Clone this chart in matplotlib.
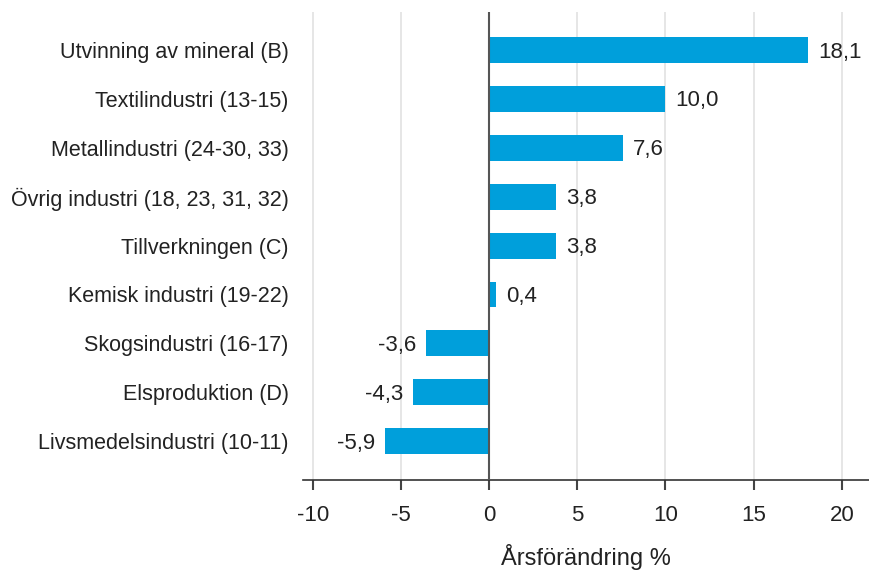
import matplotlib
matplotlib.use("Agg")
import matplotlib.pyplot as plt

plt.rcParams['font.family'] = ['Liberation Sans', 'DejaVu Sans']

categories = [
    "Utvinning av mineral (B)",
    "Textilindustri (13-15)",
    "Metallindustri (24-30, 33)",
    "Övrig industri (18, 23, 31, 32)",
    "Tillverkningen (C)",
    "Kemisk industri (19-22)",
    "Skogsindustri (16-17)",
    "Elsproduktion (D)",
    "Livsmedelsindustri (10-11)",
]
values = [18.1, 10.0, 7.6, 3.8, 3.8, 0.4, -3.6, -4.3, -5.9]
xticks = [-10, -5, 0, 5, 10, 15, 20]

bar_color = "#009fdb"

fig = plt.figure(figsize=(8.7, 5.71), dpi=100)
ax = fig.add_axes([0.348, 0.159, 0.652, 0.82])

pos = list(range(len(categories)))
ax.barh(pos, values, height=0.53, color=bar_color, zorder=3)

# value labels next to each bar, decimal comma
for y, v in zip(pos, values):
    txt = f"{v:.1f}".replace(".", ",")
    if v >= 0:
        ax.text(v + 0.55, y + 0.04, txt, va="center", ha="left", fontsize=16, color="#222222")
    else:
        ax.text(v - 0.55, y + 0.04, txt, va="center", ha="right", fontsize=16, color="#222222")

ax.axvline(0, color="#555555", linewidth=1.5, zorder=4)

ax.set_xlim(-10.57, 21.6)
ax.set_ylim(8.8, -0.78)
ax.set_xticks(xticks)
ax.set_xticklabels([str(t) for t in xticks], fontsize=16, color="#222222")
ax.set_yticks(pos)
ax.set_yticklabels(categories, fontsize=15.5, color="#222222")
ax.tick_params(axis="y", length=0, pad=10)
ax.tick_params(axis="x", length=7, width=1.5, color="#444444", pad=11)

ax.grid(axis="x", color="#e2e2e2", linewidth=1.2, zorder=0)
for s in ["top", "right", "left"]:
    ax.spines[s].set_visible(False)
ax.spines["bottom"].set_color("#333333")
ax.spines["bottom"].set_linewidth(1.2)

ax.set_xlabel("Årsförändring %", fontsize=17, color="#222222", labelpad=13)

fig.savefig("out.png", dpi=100)
